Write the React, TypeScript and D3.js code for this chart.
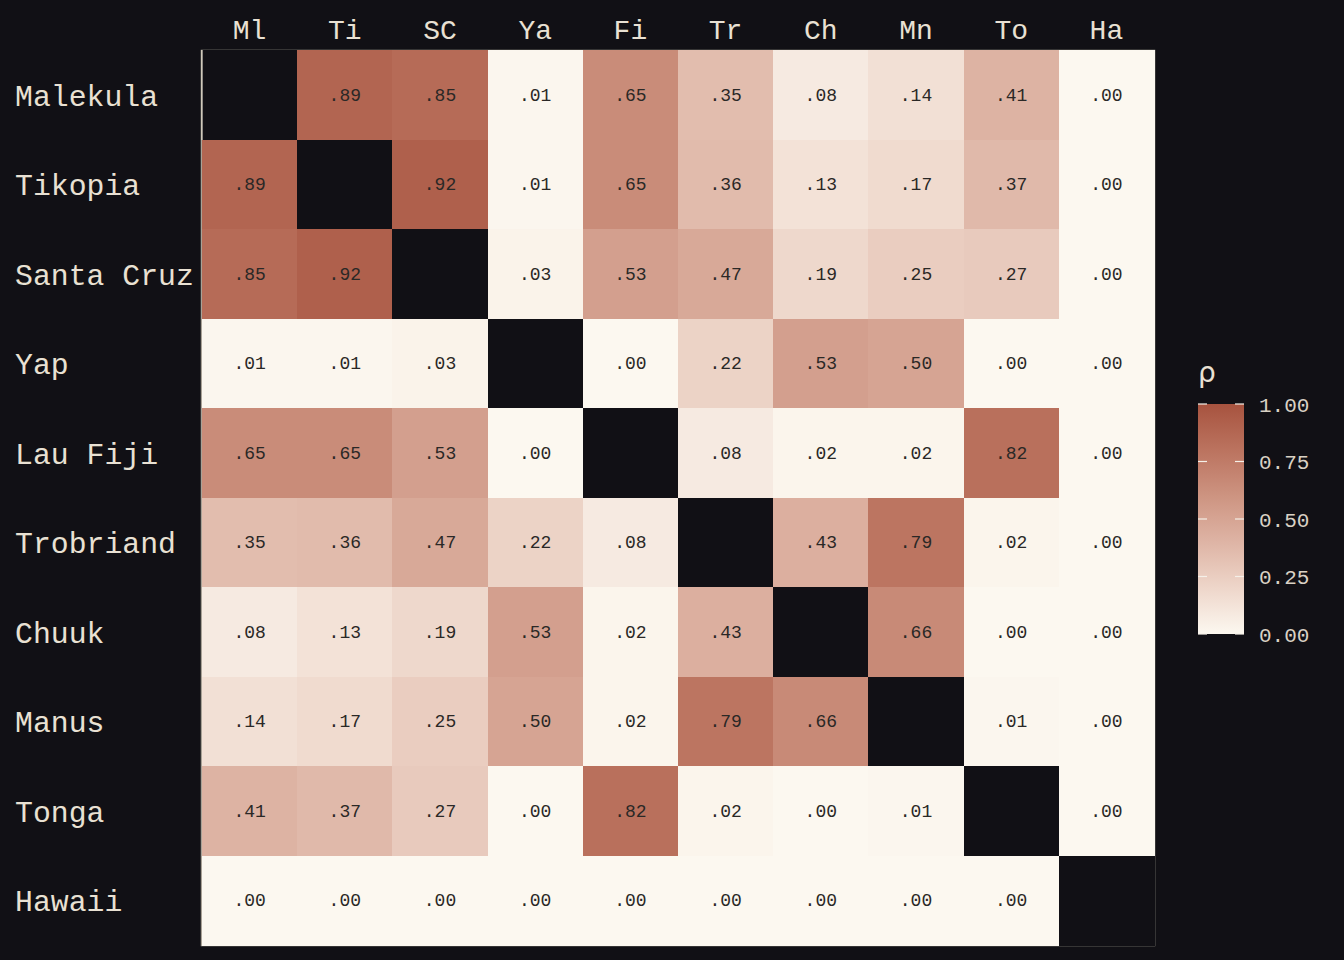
import React, { useEffect } from 'react';
import * as d3 from 'd3';

const rowNames = ['Malekula', 'Tikopia', 'Santa Cruz', 'Yap', 'Lau Fiji', 'Trobriand', 'Chuuk', 'Manus', 'Tonga', 'Hawaii'];
const colNames = ['Ml', 'Ti', 'SC', 'Ya', 'Fi', 'Tr', 'Ch', 'Mn', 'To', 'Ha'];

// correlation matrix, null on the diagonal
const rho: (number | null)[][] = [
  [null, 0.89, 0.85, 0.01, 0.65, 0.35, 0.08, 0.14, 0.41, 0.0],
  [0.89, null, 0.92, 0.01, 0.65, 0.36, 0.13, 0.17, 0.37, 0.0],
  [0.85, 0.92, null, 0.03, 0.53, 0.47, 0.19, 0.25, 0.27, 0.0],
  [0.01, 0.01, 0.03, null, 0.0, 0.22, 0.53, 0.5, 0.0, 0.0],
  [0.65, 0.65, 0.53, 0.0, null, 0.08, 0.02, 0.02, 0.82, 0.0],
  [0.35, 0.36, 0.47, 0.22, 0.08, null, 0.43, 0.79, 0.02, 0.0],
  [0.08, 0.13, 0.19, 0.53, 0.02, 0.43, null, 0.66, 0.0, 0.0],
  [0.14, 0.17, 0.25, 0.5, 0.02, 0.79, 0.66, null, 0.01, 0.0],
  [0.41, 0.37, 0.27, 0.0, 0.82, 0.02, 0.0, 0.01, null, 0.0],
  [0.0, 0.0, 0.0, 0.0, 0.0, 0.0, 0.0, 0.0, 0.0, null],
];

const legendTicks = [0, 0.25, 0.5, 0.75, 1];

const bg = '#111015';
const ink = '#e9e1d3';
const mono = '"Courier New", Courier, "Nimbus Mono PS", "Liberation Mono", monospace';
const cellFont = '"Liberation Mono", "DejaVu Sans Mono", monospace';

export default function App() {
  useEffect(() => {
    document.body.style.margin = '0';
    document.body.style.background = bg;
  }, []);

  const W = 1344, H = 960;
  const x = d3.scaleBand<string>().domain(colNames).range([202, 1154]);
  const y = d3.scaleBand<string>().domain(rowNames).range([50, 945]);
  const color = d3.scaleLinear<string>().domain([0, 1]).range(['#fcf8f0', '#a7533f']).interpolate(d3.interpolateLab);
  const fmt = (v: number) => d3.format('.2f')(v).replace(/^0/, '');

  const ly = d3.scaleLinear().domain([0, 1]).range([634, 404]);
  const lx0 = 1198, lx1 = 1244;
  const stops = d3.range(0, 1.0001, 0.1);

  const cells: { r: number; c: number; v: number | null }[] = [];
  rho.forEach((row, r) => row.forEach((v, c) => cells.push({ r, c, v })));

  return (
    <svg width={W} height={H} style={{ display: 'block', background: bg }}>
      <defs>
        <linearGradient id="rhoGrad" x1="0" y1="1" x2="0" y2="0">
          {stops.map((s) => (
            <stop key={s} offset={s} stopColor={color(s)} />
          ))}
        </linearGradient>
      </defs>
      <rect x={201.5} y={50.5} width={953} height={895} fill="none" stroke="#a9a297" strokeWidth={1.5} />
      <g shapeRendering="crispEdges">
        {cells.map(({ r, c, v }) => (
          <rect
            key={`${r}-${c}`}
            x={x(colNames[c])!}
            y={y(rowNames[r])!}
            width={x.bandwidth() + 0.5}
            height={y.bandwidth() + 0.5}
            fill={v === null ? bg : color(v)}
          />
        ))}
      </g>
      {cells.map(({ r, c, v }) =>
        v === null ? null : (
          <text
            key={`t${r}-${c}`}
            x={x(colNames[c])! + x.bandwidth() / 2}
            y={y(rowNames[r])! + y.bandwidth() / 2 + 1}
            textAnchor="middle"
            dominantBaseline="central"
            fontFamily={cellFont}
            fontSize={18}
            fill="#2a2826"
          >
            {fmt(v)}
          </text>
        )
      )}
      <line x1={202} x2={202} y1={50} y2={140} stroke="#e9e1d3" strokeWidth={1.2} />
      {colNames.map((n) => (
        <text
          key={n}
          x={x(n)! + x.bandwidth() / 2}
          y={31}
          textAnchor="middle"
          dominantBaseline="central"
          fontFamily={mono}
          fontSize={28}
          fill={ink}
        >
          {n}
        </text>
      ))}
      {rowNames.map((n) => (
        <text
          key={n}
          x={15}
          y={y(n)! + y.bandwidth() / 2 + 3}
          dominantBaseline="central"
          fontFamily={mono}
          fontSize={29.8}
          fill={ink}
        >
          {n}
        </text>
      ))}
      <text x={1198} y={382} fontFamily='"DejaVu Sans", sans-serif' fontSize={28} fill={ink}>ρ</text>
      <rect x={lx0} y={ly(1)} width={lx1 - lx0} height={ly(0) - ly(1)} fill="url(#rhoGrad)" />
      {legendTicks.map((t) => (
        <g key={t}>
          <line x1={lx0} x2={lx0 + 9} y1={ly(t)} y2={ly(t)} stroke="#f5f0e8" strokeWidth={1.2} />
          <line x1={lx1 - 9} x2={lx1} y1={ly(t)} y2={ly(t)} stroke="#f5f0e8" strokeWidth={1.2} />
          <text
            x={1259}
            y={ly(t) + 2}
            dominantBaseline="central"
            fontFamily={cellFont}
            fontSize={21}
            fill="#d9d1c4"
          >
            {d3.format('.2f')(t)}
          </text>
        </g>
      ))}
    </svg>
  );
}
